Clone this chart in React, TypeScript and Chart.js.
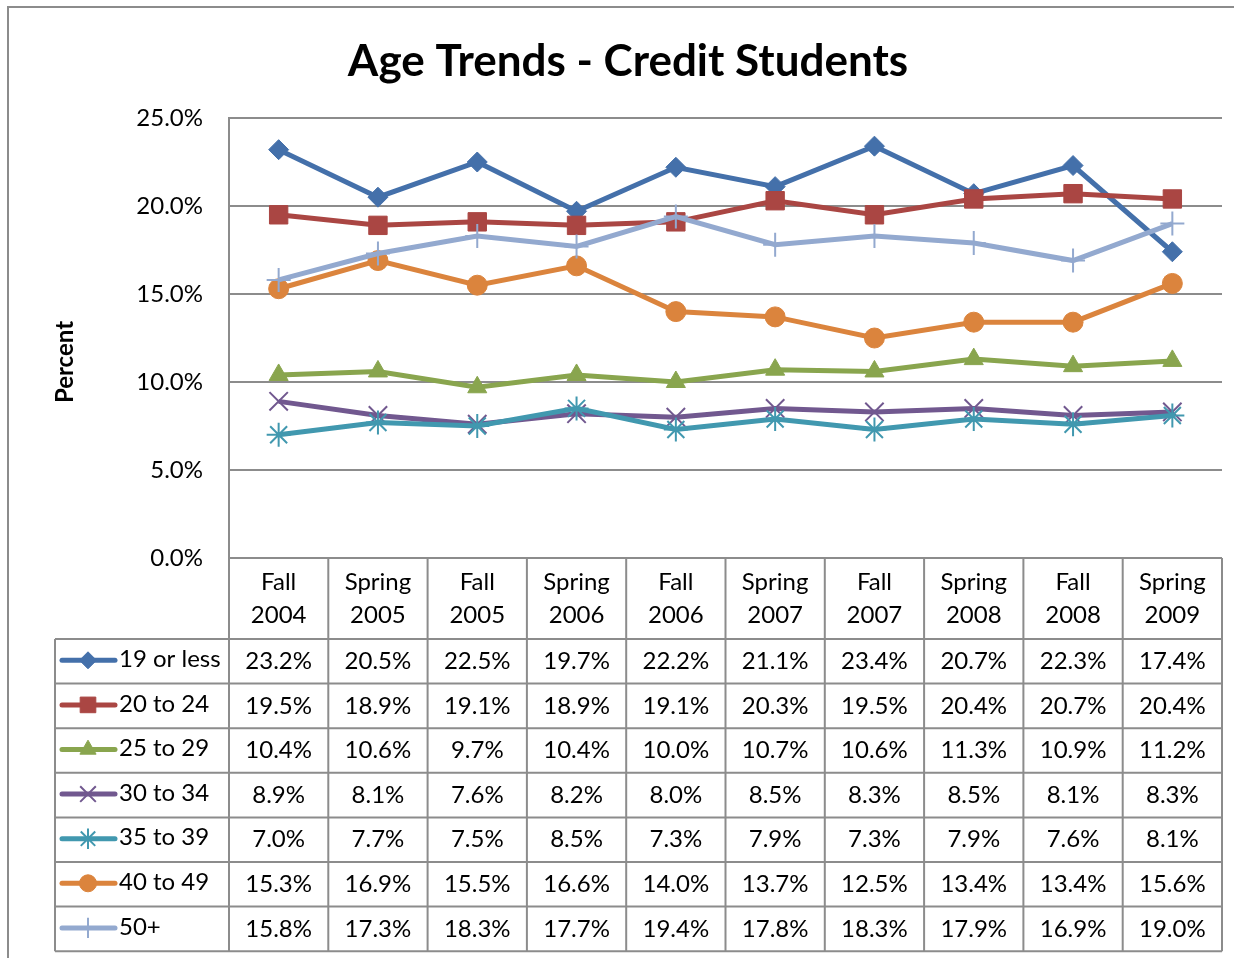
import React, { useEffect, useRef } from "react";
import { Chart, registerables } from "chart.js";
import { drawPoint } from "chart.js/helpers";

Chart.register(...registerables);

const TITLE = "Age Trends - Credit Students";
const Y_TITLE = "Percent";
const categories = [
  ["Fall", "2004"],
  ["Spring", "2005"],
  ["Fall", "2005"],
  ["Spring", "2006"],
  ["Fall", "2006"],
  ["Spring", "2007"],
  ["Fall", "2007"],
  ["Spring", "2008"],
  ["Fall", "2008"],
  ["Spring", "2009"],
];
const seriesNames = ["19 or less", "20 to 24", "25 to 29", "30 to 34", "35 to 39", "40 to 49", "50+"];
const age19OrLess = [23.2, 20.5, 22.5, 19.7, 22.2, 21.1, 23.4, 20.7, 22.3, 17.4];
const age20to24 = [19.5, 18.9, 19.1, 18.9, 19.1, 20.3, 19.5, 20.4, 20.7, 20.4];
const age25to29 = [10.4, 10.6, 9.7, 10.4, 10.0, 10.7, 10.6, 11.3, 10.9, 11.2];
const age30to34 = [8.9, 8.1, 7.6, 8.2, 8.0, 8.5, 8.3, 8.5, 8.1, 8.3];
const age35to39 = [7.0, 7.7, 7.5, 8.5, 7.3, 7.9, 7.3, 7.9, 7.6, 8.1];
const age40to49 = [15.3, 16.9, 15.5, 16.6, 14.0, 13.7, 12.5, 13.4, 13.4, 15.6];
const age50plus = [15.8, 17.3, 18.3, 17.7, 19.4, 17.8, 18.3, 17.9, 16.9, 19.0];
const seriesValues = [age19OrLess, age20to24, age25to29, age30to34, age35to39, age40to49, age50plus];
const yTicks = [0, 5, 10, 15, 20, 25];

const colors = ["#4470AA", "#AA4643", "#89A54E", "#71588F", "#4198AF", "#DB843D", "#93A9CF"];
const markers = [
  { style: "rectRot", radius: 10, bw: 1 },
  { style: "rect", radius: 13, bw: 1 },
  { style: "triangle", radius: 11, bw: 1 },
  { style: "crossRot", radius: 13, bw: 2 },
  { style: "star", radius: 12, bw: 2 },
  { style: "circle", radius: 10, bw: 1 },
  { style: "cross", radius: 12, bw: 2 },
];

const FONT = "Lato, 'Noto Sans', sans-serif";
const GRID = "#8c8c8c";

const tablePlugin = {
  id: "tablePlugin",
  afterDraw(chart: any) {
    const ctx = chart.ctx as CanvasRenderingContext2D;
    const area = chart.chartArea;
    const xs = chart.scales.x;
    const n = categories.length;
    const catW = (area.right - area.left) / n;
    const headerBottom = 639;
    const rowH = 44.6;
    const legendLeft = 55;
    const tableBottom = headerBottom + rowH * seriesNames.length;

    ctx.save();
    // outer border
    ctx.strokeStyle = GRID;
    ctx.lineWidth = 2;
    ctx.beginPath();
    ctx.moveTo(8, 958);
    ctx.lineTo(8, 7);
    ctx.lineTo(1234, 7);
    ctx.stroke();

    // title
    ctx.fillStyle = "#000";
    ctx.textAlign = "center";
    ctx.textBaseline = "middle";
    ctx.font = `bold 44px ${FONT}`;
    ctx.fillText(TITLE, 628, 62);

    // y title
    ctx.save();
    ctx.translate(65, 362);
    ctx.rotate(-Math.PI / 2);
    ctx.font = `bold 24px ${FONT}`;
    ctx.fillText(Y_TITLE, 0, 0);
    ctx.restore();

    // table lines
    ctx.strokeStyle = GRID;
    ctx.lineWidth = 2;
    ctx.beginPath();
    ctx.moveTo(area.left, area.bottom);
    ctx.lineTo(area.right, area.bottom);
    for (let i = 0; i <= seriesNames.length; i++) {
      const y = headerBottom + rowH * i;
      ctx.moveTo(legendLeft, y);
      ctx.lineTo(area.right, y);
    }
    ctx.moveTo(legendLeft, headerBottom);
    ctx.lineTo(legendLeft, tableBottom);
    for (let k = 0; k <= n; k++) {
      const x = area.left + catW * k;
      ctx.moveTo(x, area.bottom);
      ctx.lineTo(x, tableBottom);
    }
    ctx.stroke();

    // header text
    ctx.fillStyle = "#000";
    ctx.font = `24px ${FONT}`;
    ctx.textAlign = "center";
    ctx.textBaseline = "middle";
    categories.forEach((c, i) => {
      const x = xs.getPixelForValue(i);
      ctx.fillText(c[0], x, 582);
      ctx.fillText(c[1], x, 615);
    });

    // rows
    seriesNames.forEach((name, s) => {
      const cy = headerBottom + rowH * s + rowH / 2;
      // legend sample
      ctx.strokeStyle = colors[s];
      ctx.fillStyle = colors[s];
      ctx.lineWidth = 5;
      ctx.lineCap = "round";
      ctx.beginPath();
      ctx.moveTo(62, cy - 1);
      ctx.lineTo(115, cy - 1);
      ctx.stroke();
      ctx.lineCap = "butt";
      ctx.lineWidth = markers[s].bw;
      drawPoint(ctx, { pointStyle: markers[s].style, radius: markers[s].radius * 0.85, borderWidth: markers[s].bw, rotation: 0 } as any, 88, cy - 1);
      ctx.fillStyle = "#000";
      ctx.textAlign = "left";
      ctx.fillText(name, 119, cy - 2);
      ctx.textAlign = "center";
      seriesValues[s].forEach((v, i) => {
        ctx.fillText(v.toFixed(1) + "%", xs.getPixelForValue(i), cy);
      });
    });
    ctx.restore();
  },
};

export default function App() {
  const ref = useRef<HTMLCanvasElement | null>(null);
  useEffect(() => {
    if (!ref.current) return;
    const chart = new Chart(ref.current, {
      type: "line",
      data: {
        labels: categories.map((c) => c.join(" ")),
        datasets: seriesNames.map((name, s) => ({
          label: name,
          data: seriesValues[s],
          borderColor: colors[s],
          backgroundColor: colors[s],
          pointBackgroundColor: colors[s],
          pointBorderColor: colors[s],
          borderWidth: 5,
          pointStyle: markers[s].style as any,
          pointRadius: markers[s].radius,
          pointBorderWidth: markers[s].bw,
          tension: 0,
          order: seriesNames.length - 1 - s,
          clip: false as any,
        })),
      },
      options: {
        responsive: false,
        animation: false,
        devicePixelRatio: 1,
        layout: { autoPadding: false, padding: { left: 0, top: 118, right: 12, bottom: 400 } },
        plugins: { legend: { display: false }, title: { display: false }, tooltip: { enabled: false } },
        scales: {
          x: {
            type: "category",
            display: false,
            offset: true,
            grid: { display: false },
          },
          y: {
            min: 0,
            max: 25,
            afterFit: (scale: any) => {
              scale.width = 229;
            },
            afterBuildTicks: (scale: any) => {
              scale.ticks = yTicks.map((v) => ({ value: v }));
            },
            grid: { color: GRID, lineWidth: 2, drawTicks: false },
            border: { display: true, color: GRID, width: 2 },
            ticks: {
              padding: 26,
              color: "#000",
              font: { family: FONT, size: 24 },
              callback: (v: any) => Number(v).toFixed(1) + "%",
            },
          },
        },
      },
      plugins: [tablePlugin],
    });
    return () => chart.destroy();
  }, []);
  return (
    <div style={{ position: "absolute", left: 0, top: 0, width: 1234, height: 958, background: "#fff" }}>
      <canvas ref={ref} width={1234} height={958} style={{ width: 1234, height: 958 }} />
    </div>
  );
}
